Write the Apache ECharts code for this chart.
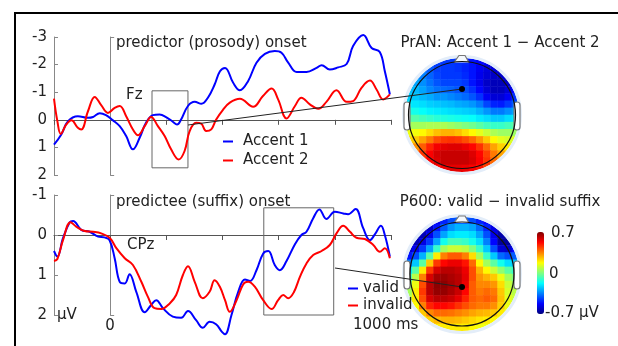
<!DOCTYPE html>
<html>
<head>
<meta charset="utf-8">
<script src="https://cdn.jsdelivr.net/npm/echarts@6/dist/echarts.min.js"></script>
<style>
  html, body { margin: 0; padding: 0; background: #fff; }
  #chart { width: 618px; height: 346px; }
</style>
</head>
<body>
<div id="chart"></div>
<script>
const FONT = 'DejaVu Sans';

// ERP waveforms, [ms, µV] (negative up)
const accent1 = [[-200,0.9],[-174,0.53],[-150,0.05],[-115,-0.13],[-79,-0.07],[-61,-0.1],[-37,-0.24],[-15,-0.17],[10,0.02],[34,0.23],[57,0.59],[81,1.07],[105,0.65],[128,0.1],[152,-0.17],[176,-0.19],[199,-0.1],[223,0.07],[238,0.17],[252,0],[277,-0.5],[301,-0.65],[325,-0.58],[348,-0.8],[372,-1.28],[391,-1.76],[409,-1.88],[438,-1.34],[462,-1.07],[491,-1.4],[521,-2.07],[551,-2.39],[586,-2.49],[610,-2.43],[634,-2.07],[664,-1.73],[699,-1.73],[735,-1.88],[753,-1.98],[782,-1.82],[812,-1.9],[842,-2.02],[865,-2.67],[901,-3.07],[931,-2.6],[960,-2.46],[978,-1.76],[996,-0.92]];
const accent2 = [[-200,-0.77],[-188,0.05],[-176,0.51],[-156,0.17],[-138,0.02],[-115,0.29],[-103,0.35],[-79,-0.31],[-55,-0.83],[-32,-0.53],[-8,-0.25],[16,-0.43],[34,-0.5],[57,-0.13],[81,0.35],[99,0.56],[123,0.23],[146,-0.1],[170,0.23],[194,0.59],[217,1.07],[244,1.44],[265,1.13],[283,0.41],[306,0.11],[324,0.14],[342,0.41],[360,0.35],[377,0],[401,-0.35],[426,-0.62],[462,-0.76],[509,-0.47],[544,-0.86],[575,-1.13],[598,-0.74],[628,-0.05],[658,-0.5],[681,-0.8],[711,-0.56],[741,-0.4],[770,-0.65],[806,-1.07],[842,-0.65],[865,-0.68],[895,-1.16],[925,-1.42],[949,-1.09],[972,-0.74],[996,-0.92]];
const valid = [[-200,0.4],[-188,0.54],[-168,0.08],[-144,-0.32],[-132,-0.35],[-103,-0.13],[-73,-0.08],[-43,0.04],[-20,0.06],[-2,0.13],[16,0.58],[34,1.17],[52,1.21],[69,0.98],[93,1.42],[123,1.93],[146,1.75],[164,1.63],[188,1.83],[223,2.04],[253,2.07],[277,1.9],[306,2.13],[330,2.32],[354,2.17],[377,2.23],[398,2.42],[409,2.48],[432,2.0],[456,1.42],[480,1.11],[498,1.15],[521,0.88],[545,0.46],[563,0.4],[586,0.75],[604,0.88],[628,0.65],[658,0.23],[681,0],[699,-0.08],[723,-0.42],[745,-0.64],[770,-0.4],[800,-0.58],[830,-0.54],[847,-0.52],[874,-0.65],[901,-0.17],[925,0.13],[943,-0.02],[964,-0.23],[978,0],[996,0.54]];
const invalid = [[-200,0.65],[-188,0.6],[-168,0.13],[-141,-0.32],[-121,-0.21],[-91,-0.1],[-61,-0.08],[-32,-0.04],[-2,0.07],[22,0.33],[52,0.58],[81,0.75],[111,1.17],[134,1.54],[158,1.83],[182,1.85],[212,1.71],[235,1.5],[259,1.0],[277,0.78],[301,1.17],[330,1.58],[354,1.42],[372,1.13],[391,1.3],[409,1.63],[426,1.92],[450,1.63],[474,1.23],[491,1.17],[515,1.29],[545,1.63],[575,1.85],[598,1.63],[616,1.5],[634,1.58],[654,1.43],[676,1.04],[699,0.71],[723,0.5],[753,0.4],[782,0.25],[806,-0.04],[830,-0.23],[854,-0.08],[877,0.07],[907,0.1],[937,0.25],[960,0.42],[978,0.33],[996,0.58]];

// analysis windows [tStart, tEnd, vTop, vBottom]
const fzBox = [149, 277, -1.05, 1.74];
const cpzBox = [547, 796, -0.68, 2.0];

// scalp maps, 16x16 rows front(top) -> back(bottom), values in µV
const pranMap = [
  [-0.35,-0.37,-0.4,-0.42,-0.44,-0.45,-0.45,-0.46,-0.47,-0.5,-0.52,-0.54,-0.55,-0.55,-0.55,-0.55],
  [-0.33,-0.35,-0.37,-0.4,-0.44,-0.45,-0.45,-0.46,-0.48,-0.5,-0.54,-0.57,-0.58,-0.58,-0.56,-0.54],
  [-0.3,-0.32,-0.35,-0.39,-0.43,-0.45,-0.45,-0.45,-0.47,-0.5,-0.55,-0.58,-0.6,-0.6,-0.58,-0.54],
  [-0.28,-0.3,-0.33,-0.37,-0.41,-0.43,-0.43,-0.43,-0.45,-0.5,-0.55,-0.6,-0.62,-0.62,-0.6,-0.54],
  [-0.26,-0.27,-0.3,-0.34,-0.37,-0.38,-0.39,-0.41,-0.42,-0.46,-0.52,-0.58,-0.62,-0.62,-0.58,-0.52],
  [-0.24,-0.25,-0.27,-0.29,-0.32,-0.32,-0.34,-0.36,-0.38,-0.41,-0.46,-0.54,-0.58,-0.58,-0.54,-0.46],
  [-0.2,-0.21,-0.22,-0.24,-0.25,-0.26,-0.27,-0.29,-0.3,-0.32,-0.36,-0.43,-0.48,-0.49,-0.45,-0.4],
  [-0.14,-0.15,-0.17,-0.19,-0.2,-0.21,-0.22,-0.23,-0.24,-0.25,-0.28,-0.32,-0.36,-0.36,-0.33,-0.3],
  [-0.05,-0.06,-0.08,-0.1,-0.12,-0.13,-0.14,-0.15,-0.16,-0.17,-0.2,-0.22,-0.25,-0.25,-0.22,-0.2],
  [0.05,0.05,0.05,0.06,0.06,0.06,0.04,0.02,0,-0.02,-0.05,-0.08,-0.1,-0.1,-0.08,-0.06],
  [0.15,0.16,0.18,0.22,0.26,0.28,0.28,0.26,0.22,0.18,0.14,0.1,0.06,0.04,0.04,0.04],
  [0.22,0.25,0.3,0.36,0.42,0.45,0.46,0.45,0.42,0.38,0.32,0.25,0.18,0.14,0.12,0.12],
  [0.28,0.33,0.4,0.48,0.54,0.56,0.57,0.57,0.55,0.52,0.46,0.38,0.3,0.24,0.2,0.18],
  [0.3,0.36,0.45,0.53,0.58,0.6,0.6,0.6,0.6,0.57,0.52,0.44,0.36,0.3,0.25,0.22],
  [0.3,0.36,0.45,0.52,0.57,0.6,0.6,0.6,0.6,0.58,0.53,0.46,0.38,0.32,0.28,0.25],
  [0.3,0.35,0.42,0.48,0.52,0.55,0.56,0.56,0.55,0.53,0.5,0.44,0.38,0.32,0.28,0.25]
];
const p600Map = [
  [-0.6,-0.62,-0.62,-0.6,-0.55,-0.48,-0.42,-0.4,-0.4,-0.42,-0.48,-0.52,-0.56,-0.6,-0.6,-0.6],
  [-0.62,-0.64,-0.64,-0.6,-0.5,-0.4,-0.32,-0.28,-0.28,-0.3,-0.38,-0.48,-0.56,-0.62,-0.62,-0.6],
  [-0.62,-0.65,-0.62,-0.55,-0.42,-0.3,-0.22,-0.2,-0.2,-0.22,-0.3,-0.42,-0.55,-0.64,-0.65,-0.6],
  [-0.62,-0.62,-0.56,-0.45,-0.3,-0.15,-0.08,-0.08,-0.1,-0.15,-0.22,-0.35,-0.52,-0.66,-0.66,-0.58],
  [-0.6,-0.55,-0.45,-0.3,-0.1,0.05,0.1,0.1,0.08,0,-0.1,-0.25,-0.42,-0.58,-0.6,-0.52],
  [-0.5,-0.42,-0.28,-0.05,0.2,0.35,0.4,0.4,0.35,0.22,0.05,-0.1,-0.25,-0.38,-0.42,-0.4],
  [-0.35,-0.25,-0.05,0.25,0.45,0.52,0.55,0.55,0.5,0.38,0.18,0.05,-0.05,-0.15,-0.22,-0.25],
  [-0.2,-0.05,0.2,0.45,0.58,0.62,0.62,0.6,0.55,0.42,0.28,0.18,0.1,0.02,-0.05,-0.1],
  [-0.08,0.08,0.35,0.58,0.65,0.66,0.64,0.62,0.56,0.42,0.32,0.28,0.25,0.15,0.05,0],
  [0,0.15,0.42,0.62,0.68,0.68,0.65,0.62,0.55,0.4,0.34,0.34,0.32,0.22,0.1,0.05],
  [0.05,0.2,0.45,0.62,0.67,0.67,0.64,0.6,0.52,0.4,0.36,0.38,0.36,0.25,0.12,0.08],
  [0.08,0.2,0.42,0.58,0.62,0.62,0.6,0.56,0.48,0.4,0.38,0.4,0.38,0.26,0.14,0.1],
  [0.1,0.18,0.35,0.48,0.52,0.52,0.5,0.46,0.42,0.38,0.36,0.36,0.33,0.24,0.15,0.1],
  [0.1,0.15,0.25,0.34,0.38,0.38,0.37,0.35,0.33,0.3,0.28,0.27,0.25,0.2,0.14,0.1],
  [0.1,0.13,0.18,0.24,0.27,0.28,0.28,0.27,0.25,0.23,0.21,0.2,0.18,0.15,0.12,0.1],
  [0.1,0.12,0.15,0.18,0.2,0.2,0.2,0.2,0.2,0.18,0.16,0.15,0.14,0.12,0.1,0.1]
];
const mapCells = ['0','1','2','3','4','5','6','7','8','9','10','11','12','13','14','15'];
const jet = ['#00007f','#0000ff','#0080ff','#00ffff','#80ff80','#ffff00','#ff8000','#ff0000','#7f0000'];

// keep only cells that fall on the head disc
function mapData(m) {
  const out = [];
  const c = (m.length - 1) / 2;
  m.forEach((row, r) => row.forEach((v, col) => {
    if (Math.hypot(col - c, r - c) <= 8.7) out.push([col, r, v]);
  }));
  return out;
}

const txt = (text, x, y, extra) => ({
  type: 'text', z: 20, silent: true,
  style: Object.assign({ text, x, y, fill: '#222', fontSize: 15, fontFamily: FONT, align: 'left', verticalAlign: 'middle' }, extra || {})
});

function head(cx, cy, rHead, earTop) {
  return [
    { type: 'circle', z: 10, silent: true, shape: { cx, cy, r: 63.5 }, style: { fill: null, stroke: '#fff', lineWidth: 13 } },
    { type: 'circle', z: 11, silent: true, shape: { cx, cy, r: 58.5 }, style: { fill: null, stroke: '#e3edf9', lineWidth: 3 } },
    { type: 'polyline', z: 12, silent: true, shape: { points: [[cx - 8, cy - rHead + 1], [cx - 3, cy - rHead - 6], [cx + 3, cy - rHead - 6], [cx + 7, cy - rHead + 1]] }, style: { fill: '#f4f8fc', stroke: '#777', lineWidth: 1.2 } },
    { type: 'rect', z: 12, silent: true, shape: { x: cx - 58, y: earTop, width: 6, height: 28, r: 3 }, style: { fill: '#fff', stroke: '#777', lineWidth: 1.2 } },
    { type: 'rect', z: 12, silent: true, shape: { x: cx + 52, y: earTop, width: 6, height: 28, r: 3 }, style: { fill: '#fff', stroke: '#777', lineWidth: 1.2 } },
    { type: 'circle', z: 13, silent: true, shape: { cx, cy, r: rHead }, style: { fill: null, stroke: '#111', lineWidth: 1.2 } }
  ];
}

const waveX = (grid) => ({
  gridIndex: grid, type: 'value', min: -200, max: 1000, interval: 200,
  axisLine: { onZero: true, lineStyle: { color: '#555' } },
  axisTick: { length: 5, lineStyle: { color: '#555' } },
  axisLabel: { show: false }, splitLine: { show: false }
});
const waveY = (grid, min, max) => ({
  gridIndex: grid, type: 'value', inverse: true, min, max, interval: 1,
  axisLine: { show: true, onZero: false, lineStyle: { color: '#888' } },
  axisTick: { show: true, inside: true, length: 4, lineStyle: { color: '#888' } },
  axisLabel: { color: '#222', fontSize: 15, fontFamily: FONT, margin: 7 },
  splitLine: { show: false }
});
const onsetY = (grid, min, max) => ({
  gridIndex: grid, type: 'value', inverse: true, min, max,
  axisLine: { show: true, onZero: true, lineStyle: { color: '#888' } },
  axisTick: { show: true, customValues: [min, max], length: 4, lineStyle: { color: '#888' } },
  axisLabel: { show: false }, splitLine: { show: false }
});
const mapAxis = (grid, inverse) => ({ gridIndex: grid, type: 'category', data: mapCells, show: false, inverse: !!inverse });

const boxArea = (b) => ({
  silent: true,
  itemStyle: { color: 'rgba(0,0,0,0)', borderColor: '#666', borderWidth: 1 },
  data: [[{ coord: [b[0], b[2]] }, { coord: [b[1], b[3]] }]]
});
const wave = (name, data, color, xi, yi, extra) => Object.assign({
  name, type: 'line', xAxisIndex: xi, yAxisIndex: yi, data, smooth: 0.4, showSymbol: false, clip: false,
  lineStyle: { color, width: 2 }, itemStyle: { color }, z: 3
}, extra || {});

const legendBase = {
  orient: 'vertical', padding: 0, itemWidth: 10, itemHeight: 2, icon: 'rect', selectedMode: false, z: 30,
  textStyle: { fontSize: 15, fontFamily: FONT, color: '#222', lineHeight: 17 }
};

const chart = echarts.init(document.getElementById('chart'));
chart.setOption({
  animation: false,
  grid: [
    { left: 54, top: 37, width: 337, height: 138 },
    { left: 54, top: 195, width: 337, height: 120 },
    { left: 405, top: 58, width: 114, height: 114 },
    { left: 405, top: 217, width: 114, height: 114 }
  ],
  xAxis: [waveX(0), waveX(1), mapAxis(2), mapAxis(3)],
  yAxis: [waveY(0, -3, 2), onsetY(0, -3, 2), waveY(1, -1, 2), onsetY(1, -1, 2), mapAxis(2, true), mapAxis(3, true)],
  legend: [
    Object.assign({}, legendBase, { data: ['Accent 1', 'Accent 2'], left: 223, top: 133, itemGap: 2,
      textStyle: Object.assign({}, legendBase.textStyle, { padding: [0, 0, 0, 5] }) }),
    Object.assign({}, legendBase, { data: ['valid', 'invalid'], left: 348, top: 280, itemGap: 0 })
  ],
  visualMap: [
    { type: 'continuous', seriesIndex: 4, min: -0.7, max: 0.7, show: false, inRange: { color: jet } },
    { type: 'continuous', seriesIndex: 5, min: -0.7, max: 0.7, show: true, calculable: false, hoverLink: false,
      left: 537, top: 232, itemWidth: 7, itemHeight: 82, padding: 0, inRange: { color: jet } }
  ],
  series: [
    wave('Accent 1', accent1, '#0000ff', 0, 0, { markArea: boxArea(fzBox) }),
    wave('Accent 2', accent2, '#ff0000', 0, 0),
    wave('valid', valid, '#0000ff', 1, 2, { markArea: boxArea(cpzBox) }),
    wave('invalid', invalid, '#ff0000', 1, 2),
    { type: 'heatmap', xAxisIndex: 2, yAxisIndex: 4, data: mapData(pranMap), itemStyle: { borderWidth: 0 }, emphasis: { disabled: true }, z: 1 },
    { type: 'heatmap', xAxisIndex: 3, yAxisIndex: 5, data: mapData(p600Map), itemStyle: { borderWidth: 0 }, emphasis: { disabled: true }, z: 1 }
  ],
  graphic: [
    { type: 'polyline', z: 20, silent: true, shape: { points: [[15, 346], [15, 13], [618, 13]] }, style: { fill: null, stroke: '#000', lineWidth: 2 } },
    ...head(462, 115, 53.5, 102),
    ...head(462, 274, 52, 261),
    { type: 'line', z: 19, silent: true, shape: { x1: 188, y1: 125, x2: 462, y2: 89 }, style: { stroke: '#222', lineWidth: 1 } },
    { type: 'line', z: 19, silent: true, shape: { x1: 335, y1: 268, x2: 462, y2: 287 }, style: { stroke: '#222', lineWidth: 1 } },
    { type: 'circle', z: 20, silent: true, shape: { cx: 462, cy: 89, r: 3 }, style: { fill: '#000' } },
    { type: 'circle', z: 20, silent: true, shape: { cx: 462, cy: 287, r: 3 }, style: { fill: '#000' } },
    txt('predictor (prosody) onset', 116, 43),
    txt('Fz', 126, 95),
    txt('predictee (suffix) onset', 116, 202),
    txt('CPz', 127, 245),
    txt('0', 110, 326, { align: 'center' }),
    txt('µV', 57, 315),
    txt('1000 ms', 353, 325),
    txt('PrAN: Accent 1 \u2212 Accent 2', 500, 43, { align: 'center' }),
    txt('P600: valid \u2212 invalid suffix', 500, 202, { align: 'center' }),
    txt('0.7', 551, 233),
    txt('0', 549, 274),
    txt('-0.7 µV', 545, 313)
  ]
});
</script>
</body>
</html>
